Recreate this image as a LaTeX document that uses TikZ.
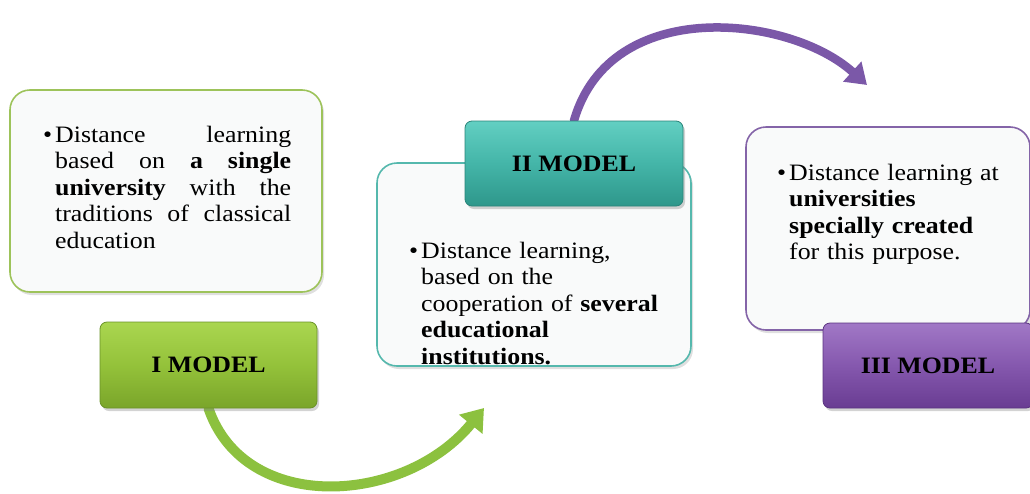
\documentclass[tikz,border=0pt]{standalone}
\usepackage{fontspec}
\setmainfont{Liberation Serif}[FakeStretch=1.1]
\usetikzlibrary{arrows.meta,shadows,backgrounds}
\definecolor{panelfill}{HTML}{F9FAFA}
\definecolor{grB}{HTML}{9DC35A}
\definecolor{grT}{HTML}{AAD650}
\definecolor{grM}{HTML}{94C23A}
\definecolor{grD}{HTML}{7AA52A}
\definecolor{grE}{HTML}{6A9228}
\definecolor{tlB}{HTML}{55B8AD}
\definecolor{tlT}{HTML}{62CFC2}
\definecolor{tlM}{HTML}{44B5A8}
\definecolor{tlD}{HTML}{2E978B}
\definecolor{tlE}{HTML}{2A8479}
\definecolor{puB}{HTML}{8464A8}
\definecolor{puT}{HTML}{A178C6}
\definecolor{puM}{HTML}{8558AE}
\definecolor{puD}{HTML}{693C92}
\definecolor{puE}{HTML}{5A3380}
\definecolor{grA}{HTML}{8CC13F}
\definecolor{puA}{HTML}{7B58A8}
\begin{document}
\begin{tikzpicture}[x=1pt,y=-1pt,
  panel/.style={draw=#1, line width=1.6pt, rounded corners=20pt, fill=panelfill,
    drop shadow={opacity=0.25,shadow xshift=2pt,shadow yshift=-3pt}},
  modelbox/.style={rounded corners=7pt, line width=0.8pt,
    drop shadow={opacity=0.35,shadow xshift=2pt,shadow yshift=-3pt},
    font=\fontsize{23.5pt}{26.5pt}\selectfont\bfseries},
  body/.style={inner sep=0pt, font=\fontsize{23.5pt}{26.5pt}\selectfont},
  flow/.style={line cap=round}]
\useasboundingbox (0,0) rectangle (1030,493);

% panels
\node[panel=grB, minimum width=312pt, minimum height=202pt] (p1) at (166,191) {};
\node[panel=tlB, minimum width=314pt, minimum height=203pt] (p2) at (534,264.5) {};
\node[panel=puB, minimum width=284pt, minimum height=203pt] (p3) at (888,228.5) {};

% model boxes
\node[modelbox, draw=grE, top color=grT, bottom color=grD, middle color=grM,
  minimum width=217pt, minimum height=86pt] (m1) at (208.5,365) {I MODEL};
\node[modelbox, draw=tlE, top color=tlT, bottom color=tlD, middle color=tlM,
  minimum width=218pt, minimum height=85pt] (m2) at (574,163.5) {II MODEL};
\node[modelbox, draw=puE, top color=puT, bottom color=puD, middle color=puM,
  minimum width=210pt, minimum height=85pt] (m3) at (928,365.5) {III MODEL};

% texts
\node[body, text width=236pt, align=justify, anchor=base west] (t1) at (55,142)
 {\makebox[0pt][r]{\textbullet\hspace{3pt}}Distance learning\linebreak
  based on \textbf{a single}\linebreak
  \textbf{university} with the\linebreak
  traditions of classical\linebreak
  education};
\node[body, text width=250pt, align=left, anchor=base west] (t2) at (421,258)
 {\makebox[0pt][r]{\textbullet\hspace{3pt}}Distance learning,\\
  based on the\\
  cooperation of \textbf{several}\\
  \textbf{educational}\\
  \textbf{institutions.}};
\node[body, text width=230pt, align=left, anchor=base west] (t3) at (789,180)
 {\makebox[0pt][r]{\textbullet\hspace{3pt}}Distance learning at\\
  \textbf{universities}\\
  \textbf{specially created}\\
  for this purpose.};

% arrows
\coordinate (e1) at (484,408);
\coordinate (e2) at (867,85);
\begin{scope}[on background layer]
\draw[flow, line width=10pt, draw=grA, -{Triangle[length=21pt,width=29pt]}]
  (m1.south) .. controls (245,515) and (405,505) .. (e1);
\draw[flow, line width=8.5pt, draw=puA, -{Triangle[length=20pt,width=26pt]}]
  (m2.north) .. controls (610,-5) and (790,15) .. (e2);
\end{scope}
\end{tikzpicture}
\end{document}
